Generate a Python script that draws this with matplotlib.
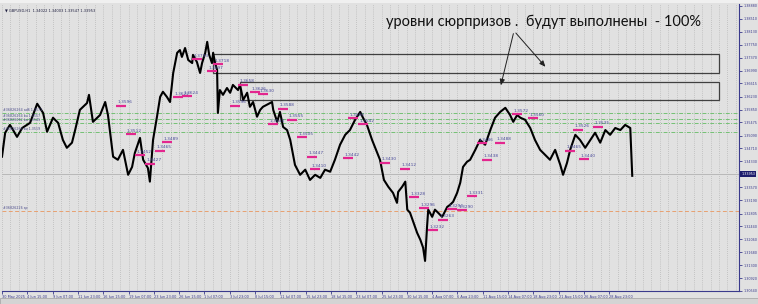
import matplotlib
matplotlib.use("Agg")
import matplotlib.pyplot as plt
from matplotlib.patches import Rectangle

# ---------------- data ----------------
bars = [0, 8, 20, 28, 38, 51, 71, 89, 104, 114, 129, 142, 154, 164, 177, 185, 197, 215, 220, 230,
        248, 261, 268, 281, 293, 306, 319, 329, 336, 349, 357, 369, 374, 382, 392, 400, 407, 417, 425, 433,
        443, 450, 455, 463, 471, 481, 483, 493, 501, 506, 514, 519, 524, 531, 534, 539, 544, 546, 551, 559,
        569, 577, 584, 597, 602, 610, 620, 627, 635, 645, 653, 660, 670, 683, 686, 696, 703, 711, 721, 729,
        741, 754, 767, 779, 792, 805, 817, 830, 842, 855, 868, 880, 893, 906, 913, 923, 936, 946, 956, 966,
        977, 989, 999, 1002, 1012, 1020, 1025, 1032, 1040, 1050, 1058, 1065, 1070, 1075, 1078, 1088, 1095, 1103, 1113, 1116,
        1126, 1133, 1141, 1151, 1159, 1166, 1176, 1184, 1197, 1209, 1222, 1235, 1247, 1260, 1273, 1285, 1293, 1303, 1311, 1323,
        1336, 1348, 1361, 1374, 1386, 1399, 1412, 1419, 1429, 1437, 1450, 1462, 1475, 1488, 1500, 1513, 1526, 1538, 1551, 1564,
        1576, 1589, 1594]
closes = [1.3447, 1.3517, 1.3540, 1.3525, 1.3505, 1.3531, 1.3546, 1.3602, 1.3575, 1.3520, 1.3561, 1.3546, 1.3496, 1.3473, 1.3488, 1.3525, 1.3584, 1.3604, 1.3628, 1.3549,
          1.3569, 1.3607, 1.3569, 1.3447, 1.3438, 1.3467, 1.3394, 1.3417, 1.3458, 1.3502, 1.3438, 1.3414, 1.3374, 1.3496, 1.3564, 1.3622, 1.3637, 1.3622, 1.3607, 1.3692,
          1.3751, 1.3759, 1.3739, 1.3765, 1.3730, 1.3721, 1.3745, 1.3724, 1.3692, 1.3721, 1.3751, 1.3783, 1.3745, 1.3721, 1.3751, 1.3721, 1.3701, 1.3575, 1.3642, 1.3628,
          1.3648, 1.3634, 1.3657, 1.3642, 1.3657, 1.3613, 1.3634, 1.3593, 1.3607, 1.3564, 1.3584, 1.3593, 1.3599, 1.3607, 1.3584, 1.3549, 1.3578, 1.3534, 1.3525, 1.3496,
          1.3423, 1.3394, 1.3409, 1.3379, 1.3394, 1.3385, 1.3409, 1.3403, 1.3438, 1.3482, 1.3511, 1.3525, 1.3555, 1.3578, 1.3561, 1.3540, 1.3496, 1.3467, 1.3438, 1.3379,
          1.3359, 1.3341, 1.3312, 1.3344, 1.3359, 1.3374, 1.3292, 1.3283, 1.3257, 1.3224, 1.3204, 1.3181, 1.3142, 1.3242, 1.3292, 1.3271, 1.3292, 1.3283, 1.3271, 1.3277,
          1.3300, 1.3306, 1.3315, 1.3341, 1.3371, 1.3417, 1.3432, 1.3438, 1.3467, 1.3496, 1.3482, 1.3525, 1.3561, 1.3578, 1.3590, 1.3569, 1.3549, 1.3569, 1.3561, 1.3555,
          1.3531, 1.3496, 1.3467, 1.3452, 1.3438, 1.3467, 1.3423, 1.3394, 1.3429, 1.3467, 1.3511, 1.3496, 1.3473, 1.3496, 1.3517, 1.3488, 1.3525, 1.3511, 1.3531, 1.3525,
          1.3540, 1.3531, 1.3391]

date_labels = ["30 May 2025", "4 Jun 15:00", "9 Jun 07:00", "11 Jun 23:00", "16 Jun 15:00", "19 Jun 07:00",
               "23 Jun 23:00", "26 Jun 15:00", "1 Jul 07:00", "3 Jul 23:00", "8 Jul 15:00", "11 Jul 07:00",
               "15 Jul 23:00", "18 Jul 15:00", "23 Jul 07:00", "25 Jul 23:00", "30 Jul 15:00", "4 Aug 07:00",
               "6 Aug 23:00", "11 Aug 15:00", "14 Aug 07:00", "18 Aug 23:00", "21 Aug 15:00", "26 Aug 07:00",
               "28 Aug 23:00"]
bars_per_label = 64

price_ticks = ["1.38880", "1.38510", "1.38130", "1.37750", "1.37370", "1.36990", "1.36615", "1.36230",
               "1.35850", "1.35475", "1.35090", "1.34710", "1.34330", "1.33570", "1.33190", "1.32805",
               "1.32440", "1.32060", "1.31680", "1.31300", "1.30920", "1.30540"]
current_price = 1.33953

# magenta level marks: start bar and label (the label is the level price)
mark_bars = [288, 313, 405, 387, 336, 362, 433, 455, 481, 534, 519, 597, 627, 648, 577,
             698, 721, 673, 746, 772, 779, 863, 875, 900, 956, 1007, 1030, 1055, 1078, 1103,
             1126, 1151, 1176, 1202, 1214, 1247, 1290, 1331, 1425, 1445, 1460, 1495]
mark_labels = ["1.3596", "1.3512", "1.3489", "1.3465", "1.3452", "1.3427", "1.3622", "1.3624", "1.3733",
               "1.3718", "1.3697", "1.3658", "1.3636", "1.3630", "1.3596",
               "1.3588", "1.3555", "1.3543", "1.3505", "1.3447", "1.3410", "1.3442", "1.3560", "1.3542",
               "1.3430", "1.3412", "1.3328", "1.3296", "1.3232", "1.3263",
               "1.3294", "1.3290", "1.3331", "1.3486", "1.3438", "1.3488", "1.3572", "1.3560", "1.3465",
               "1.3526", "1.3440", "1.3535"]

green_levels = [1.3576, 1.3557, 1.3545, 1.3519]
orange_level = 1.3289
box_bars = [(534, 1814), (602, 1814)]
box_prices = [(1.3692, 1.3748), (1.3613, 1.3666)]
arrow_root = (1295, 1.3815)
arrow_tips = [(1260, 1.3648), (1379, 1.3704)]
headline = "уровни сюрпризов .  будут выполнены  - 100%"
header = "GBPUSD,H1  1.34022 1.34003 1.33547 1.33953"
left_tags = ["#36826264 ad6 1.3571", "#36826264 bu 1.3557", "#36826262 bu 1.3545", "#36826263 bu 1.3519"]
orange_tag = "#36826226 sp"

# ---------------- figure ----------------
W, H = 758, 304
fig = plt.figure(figsize=(W / 100, H / 100), dpi=100)
fig.patch.set_facecolor("#e1e1e1")
ax = fig.add_axes([2 / W, 13 / H, 737 / W, 287 / H])
ax.set_facecolor("#e1e1e1")
navy = "#3a3a8c"

ax.set_xlim(0, 1864)
ax.set_ylim(1.30549, 1.38938)

# vertical dotted grid
step = bars_per_label / 3
g = 0.0
while g < 1864:
    ax.axvline(g, color="#a8a8a8", lw=0.5, ls=(0, (1, 2)), zorder=0)
    g += step

# horizontal levels
for lv in green_levels:
    ax.axhline(lv, color="#74c074", lw=0.7, ls=(0, (4, 1.5, 1, 1.5)), zorder=1)
ax.axhline(orange_level, color="#e8a070", lw=0.7, ls=(0, (4, 2.5)), zorder=1)
ax.axhline(current_price, color="#b8b8b8", lw=0.7, zorder=1)

# boxes
for (b0, b1), (p0, p1) in zip(box_bars, box_prices):
    ax.add_patch(Rectangle((b0, p0), b1 - b0, p1 - p0, fill=False, ec="#404040", lw=0.9, zorder=2))

# price path
ax.plot(bars, closes, color="black", lw=1.5, zorder=3)

# magenta marks
for b, lab in zip(mark_bars, mark_labels):
    v = float(lab)
    ax.plot([b, b + 25], [v, v], color="#e3268f", lw=1.6, zorder=4, solid_capstyle="butt")
    ax.text(b + 3, v + 0.0004, lab, fontsize=3.1, color="#4a4a9a", va="bottom", ha="left", zorder=5)

# arrows
for tip in arrow_tips:
    ax.annotate("", xy=tip, xytext=arrow_root,
                arrowprops=dict(arrowstyle="-|>,head_length=0.35,head_width=0.15", color="#202020", lw=0.7))

ax.text(1369, 1.3843, headline, fontsize=10.5, family="Lato", ha="center", va="center", color="#111111")
ax.text(0.004, 0.985, "\u25bc " + header, transform=ax.transAxes, fontsize=2.6, color="#202040", va="top")

for lv, t in zip(green_levels, left_tags):
    ax.text(3, lv + 0.0003, t, fontsize=2.3, color="#4a4a8a", va="bottom")
ax.text(3, orange_level + 0.0003, orange_tag, fontsize=2.3, color="#4a4a8a", va="bottom")

# axes styling
for s in ["left", "top"]:
    ax.spines[s].set_visible(False)
for s in ["right", "bottom"]:
    ax.spines[s].set_color(navy)
    ax.spines[s].set_linewidth(0.8)
ax.yaxis.tick_right()
ax.set_yticks([float(t) for t in price_ticks])
ax.set_yticklabels(price_ticks)
ax.tick_params(axis="y", length=2, width=0.6, color=navy, labelsize=2.4, labelcolor=navy, pad=1)
ax.set_xticks([i * bars_per_label for i in range(len(date_labels))])
ax.set_xticklabels(date_labels)
for lab in ax.get_xticklabels():
    lab.set_horizontalalignment("left")
ax.tick_params(axis="x", length=2, width=0.6, color=navy, labelsize=2.5, labelcolor=navy, pad=1)

ax.text(1.003, current_price, f"{current_price:.5f}", transform=ax.get_yaxis_transform(),
        fontsize=2.4, color="white", va="center", ha="left",
        bbox=dict(boxstyle="square,pad=0.3", fc="#1c1c6c", ec="none"))

# top toolbar strip and bottom status bar
fig.add_artist(Rectangle((0, 1 - 3 / H), 1, 3 / H, transform=fig.transFigure, fc="#f0f0f0", ec="none"))
fig.add_artist(Rectangle((0, 0), 1, 6 / H, transform=fig.transFigure, fc="#d4d4d4", ec="#a0a0a0", lw=0.5))

fig.savefig("out.png", dpi=100)
